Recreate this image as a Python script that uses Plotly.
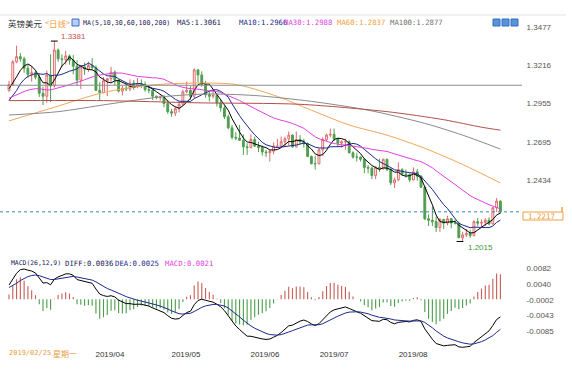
import pandas as pd
import plotly.graph_objects as go

# ---------------- data ----------------
prior_closes = [1.2645, 1.2755, 1.2610, 1.2630, 1.2725, 1.2780, 1.2725, 1.2750, 1.2765, 1.2845,
                1.2870, 1.2870, 1.2860, 1.2990, 1.2880, 1.2875, 1.2955, 1.3045, 1.3065, 1.3190,
                1.3185, 1.3075, 1.3125, 1.3115, 1.3075, 1.3045, 1.2945, 1.2930, 1.2945, 1.2940,
                1.2880, 1.2935, 1.2905, 1.2800, 1.2900, 1.2940, 1.3050, 1.3060, 1.3040, 1.3045]

opens = [1.3045, 1.3085, 1.3240, 1.3275, 1.3260, 1.3195, 1.3155, 1.3165, 1.3135, 1.3025,
         1.3005, 1.3150, 1.3075, 1.3320, 1.3260, 1.3255, 1.3280, 1.3250, 1.3210, 1.3115,
         1.3205, 1.3190, 1.3215, 1.3200, 1.3045, 1.3030, 1.3110, 1.3125, 1.3170, 1.3115,
         1.3040, 1.3060, 1.3055, 1.3095, 1.3070, 1.3090, 1.3085, 1.3050, 1.3045, 1.3005,
         1.2995, 1.3000, 1.2955, 1.2900, 1.2890, 1.2920, 1.2950, 1.3035, 1.3045, 1.3005,
         1.3185, 1.3150, 1.3085, 1.3015, 1.3005, 1.3010, 1.2960, 1.2925, 1.2865, 1.2790,
         1.2725, 1.2720, 1.2705, 1.2660, 1.2655, 1.2710, 1.2665, 1.2655, 1.2625, 1.2620,
         1.2630, 1.2665, 1.2665, 1.2695, 1.2715, 1.2740, 1.2660, 1.2710, 1.2695, 1.2680,
         1.2595, 1.2545, 1.2545, 1.2640, 1.2710, 1.2740, 1.2745, 1.2715, 1.2685, 1.2695,
         1.2695, 1.2620, 1.2590, 1.2590, 1.2575, 1.2520, 1.2515, 1.2465, 1.2520, 1.2510,
         1.2575, 1.2505, 1.2415, 1.2435, 1.2505, 1.2475, 1.2470, 1.2435, 1.2490, 1.2460,
         1.2385, 1.2170, 1.2160, 1.2150, 1.2110, 1.2165, 1.2140, 1.2170, 1.2140, 1.2140,
         1.2040, 1.2060, 1.2070, 1.2055, 1.2150, 1.2140, 1.2145, 1.2160, 1.2135, 1.2245,
         1.2290]
highs = [1.3110, 1.3250, 1.3350, 1.3300, 1.3275, 1.3220, 1.3210, 1.3180, 1.3160, 1.3070,
         1.3180, 1.3290, 1.3381, 1.3330, 1.3290, 1.3315, 1.3290, 1.3285, 1.3250, 1.3210,
         1.3235, 1.3240, 1.3265, 1.3215, 1.3100, 1.3135, 1.3130, 1.3205, 1.3180, 1.3120,
         1.3075, 1.3095, 1.3120, 1.3115, 1.3130, 1.3120, 1.3105, 1.3075, 1.3060, 1.3010,
         1.3010, 1.3015, 1.2980, 1.2920, 1.2935, 1.2970, 1.3050, 1.3105, 1.3075, 1.3195,
         1.3190, 1.3175, 1.3110, 1.3040, 1.3045, 1.3025, 1.2985, 1.2940, 1.2880, 1.2810,
         1.2760, 1.2810, 1.2745, 1.2685, 1.2745, 1.2730, 1.2695, 1.2670, 1.2640, 1.2640,
         1.2690, 1.2715, 1.2730, 1.2730, 1.2765, 1.2745, 1.2765, 1.2740, 1.2715, 1.2690,
         1.2600, 1.2600, 1.2650, 1.2725, 1.2750, 1.2785, 1.2785, 1.2720, 1.2705, 1.2715,
         1.2705, 1.2630, 1.2620, 1.2595, 1.2580, 1.2535, 1.2525, 1.2530, 1.2580, 1.2580,
         1.2580, 1.2520, 1.2450, 1.2555, 1.2515, 1.2505, 1.2480, 1.2520, 1.2510, 1.2465,
         1.2390, 1.2200, 1.2250, 1.2185, 1.2175, 1.2170, 1.2190, 1.2175, 1.2165, 1.2150,
         1.2080, 1.2100, 1.2095, 1.2160, 1.2175, 1.2165, 1.2175, 1.2180, 1.2250, 1.2311,
         1.2295]
lows = [1.3035, 1.3075, 1.3230, 1.3240, 1.3165, 1.3130, 1.3105, 1.3120, 1.3000, 1.2945,
        1.2960, 1.2965, 1.3065, 1.3240, 1.3205, 1.3220, 1.3220, 1.3155, 1.3075, 1.3055,
        1.3150, 1.3170, 1.3185, 1.3040, 1.2980, 1.3025, 1.3005, 1.3100, 1.3080, 1.3030,
        1.3010, 1.3040, 1.3040, 1.3050, 1.3060, 1.3060, 1.3035, 1.3025, 1.2980, 1.2985,
        1.2975, 1.2930, 1.2885, 1.2865, 1.2870, 1.2895, 1.2945, 1.3025, 1.2980, 1.2990,
        1.3100, 1.3070, 1.2995, 1.2970, 1.2990, 1.2935, 1.2900, 1.2850, 1.2780, 1.2710,
        1.2705, 1.2700, 1.2605, 1.2605, 1.2650, 1.2660, 1.2625, 1.2600, 1.2590, 1.2560,
        1.2610, 1.2650, 1.2655, 1.2660, 1.2670, 1.2655, 1.2655, 1.2675, 1.2655, 1.2590,
        1.2540, 1.2505, 1.2540, 1.2600, 1.2700, 1.2725, 1.2700, 1.2660, 1.2655, 1.2640,
        1.2615, 1.2580, 1.2560, 1.2560, 1.2480, 1.2480, 1.2440, 1.2440, 1.2490, 1.2505,
        1.2495, 1.2400, 1.2380, 1.2425, 1.2465, 1.2450, 1.2420, 1.2430, 1.2430, 1.2380,
        1.2160, 1.2120, 1.2120, 1.2080, 1.2080, 1.2100, 1.2125, 1.2105, 1.2130, 1.2040,
        1.2015, 1.2045, 1.2040, 1.2050, 1.2120, 1.2110, 1.2120, 1.2125, 1.2130, 1.2215,
        1.2205]
closes = [1.3085, 1.3240, 1.3275, 1.3260, 1.3195, 1.3155, 1.3165, 1.3135, 1.3025, 1.3005,
          1.3150, 1.3075, 1.3320, 1.3260, 1.3255, 1.3280, 1.3250, 1.3210, 1.3115, 1.3205,
          1.3190, 1.3215, 1.3200, 1.3045, 1.3030, 1.3110, 1.3125, 1.3170, 1.3115, 1.3040,
          1.3060, 1.3055, 1.3095, 1.3070, 1.3090, 1.3085, 1.3050, 1.3045, 1.3005, 1.2995,
          1.3000, 1.2955, 1.2900, 1.2890, 1.2920, 1.2950, 1.3035, 1.3045, 1.3005, 1.3185,
          1.3150, 1.3085, 1.3015, 1.3005, 1.3010, 1.2960, 1.2925, 1.2865, 1.2790, 1.2725,
          1.2720, 1.2705, 1.2660, 1.2655, 1.2710, 1.2665, 1.2655, 1.2625, 1.2620, 1.2630,
          1.2665, 1.2665, 1.2695, 1.2715, 1.2740, 1.2660, 1.2710, 1.2695, 1.2680, 1.2595,
          1.2545, 1.2545, 1.2640, 1.2710, 1.2740, 1.2745, 1.2715, 1.2685, 1.2695, 1.2695,
          1.2620, 1.2590, 1.2590, 1.2575, 1.2520, 1.2515, 1.2465, 1.2520, 1.2510, 1.2575,
          1.2505, 1.2415, 1.2435, 1.2505, 1.2475, 1.2470, 1.2435, 1.2490, 1.2460, 1.2385,
          1.2170, 1.2160, 1.2150, 1.2110, 1.2165, 1.2140, 1.2170, 1.2140, 1.2140, 1.2040,
          1.2060, 1.2070, 1.2055, 1.2150, 1.2140, 1.2145, 1.2160, 1.2135, 1.2245, 1.2290,
          1.2217]

# long moving averages at a few candles (index, value)
ma60_idx = [0, 12, 25, 37, 50, 60, 70, 80, 90, 100, 110, 120, 130]
ma60_val = [1.2837, 1.2930, 1.3030, 1.3080, 1.3095, 1.3085, 1.3013, 1.2910, 1.2809, 1.2740, 1.2650, 1.2540, 1.2414]
ma100_idx = [0, 13, 26, 40, 52, 65, 80, 95, 110, 120, 130]
ma100_val = [1.2877, 1.2900, 1.2950, 1.3000, 1.3020, 1.3010, 1.2970, 1.2910, 1.2820, 1.2740, 1.2645]
ma200_idx = [0, 25, 50, 77, 100, 115, 125, 130]
ma200_val = [1.2975, 1.2975, 1.2960, 1.2950, 1.2900, 1.2845, 1.2794, 1.2774]

price_ticks = [1.3477, 1.3216, 1.2955, 1.2695, 1.2434]
macd_ticks = [0.0082, 0.0040, -0.0002, -0.0043, -0.0085]
month_labels = ["2019/04", "2019/05", "2019/06", "2019/07", "2019/08"]
month_pos = [26.7, 46.8, 67.7, 86.0, 106.9]
h_line_price = 1.3080
last_price = 1.2217
high_price = 1.3381
high_idx = 12
low_price = 1.2015
low_idx = 120

# ---------------- derived indicators ----------------
idx = list(range(len(closes)))
n_prior = len(prior_closes)
all_close = pd.Series(prior_closes + closes)
ma5 = all_close.rolling(5).mean().iloc[n_prior:].tolist()
ma10 = all_close.rolling(10).mean().iloc[n_prior:].tolist()
ma30 = all_close.rolling(30).mean().iloc[n_prior:].tolist()
ema12 = all_close.ewm(span=12, adjust=False).mean()
ema26 = all_close.ewm(span=26, adjust=False).mean()
diff_all = ema12 - ema26
dea_all = diff_all.ewm(span=9, adjust=False).mean()
diff = diff_all.iloc[n_prior:].tolist()
dea = dea_all.iloc[n_prior:].tolist()
hist = [2 * (a - b) for a, b in zip(diff, dea)]

# ---------------- geometry ----------------
W, H = 572, 383
PW = 521  # plot area width in px
X_RANGE = [-2.38, 135.45]


def fx(px):
    return px / PW


def fy(py):
    return 1 - py / H


RED = "#e06a6a"
GREEN = "#4f9e4f"
MONO = "DejaVu Sans Mono"
CJK = "Noto Sans CJK SC"
SANS = "Liberation Sans"

fig = go.Figure()

fig.add_trace(go.Candlestick(
    x=idx, open=opens, high=highs, low=lows, close=closes,
    increasing=dict(line=dict(color=RED, width=1), fillcolor="white"),
    decreasing=dict(line=dict(color=GREEN, width=1), fillcolor=GREEN),
    whiskerwidth=0, xaxis="x", yaxis="y", showlegend=False, hoverinfo="skip"))

for vals, col in [(ma5, "#000000"), (ma10, "#1c2a8c"), (ma30, "#e040e0")]:
    fig.add_trace(go.Scatter(x=idx, y=vals, mode="lines", line=dict(color=col, width=1),
                             xaxis="x", yaxis="y", showlegend=False, hoverinfo="skip"))
for xs, vals, col in [(ma60_idx, ma60_val, "#f2a65a"), (ma100_idx, ma100_val, "#8a8a8a"),
                      (ma200_idx, ma200_val, "#b0504a")]:
    fig.add_trace(go.Scatter(x=xs, y=vals, mode="lines", line=dict(color=col, width=1, shape="spline", smoothing=0.8),
                             xaxis="x", yaxis="y", showlegend=False, hoverinfo="skip"))

# MACD panel
fig.add_trace(go.Bar(x=idx, y=hist, width=0.3,
                     marker=dict(color=["#c8605a" if v >= 0 else GREEN for v in hist], line=dict(width=0)),
                     xaxis="x2", yaxis="y2", showlegend=False, hoverinfo="skip"))
fig.add_trace(go.Scatter(x=idx, y=diff, mode="lines", line=dict(color="#000000", width=1),
                         xaxis="x2", yaxis="y2", showlegend=False, hoverinfo="skip"))
fig.add_trace(go.Scatter(x=idx, y=dea, mode="lines", line=dict(color="#1c2a8c", width=1),
                         xaxis="x2", yaxis="y2", showlegend=False, hoverinfo="skip"))

p_top = price_ticks[0] + 12 / 1467
p_bot = price_ticks[0] - 225 / 1467
m_scale = 0.000263
m_top = macd_ticks[0] + 10 * m_scale
m_bot = macd_ticks[0] - 80 * m_scale

fig.update_layout(
    width=W, height=H, paper_bgcolor="white", plot_bgcolor="white",
    margin=dict(l=0, r=W - PW, t=0, b=0),
    showlegend=False, dragmode=False,
    xaxis=dict(domain=[0, 1], range=X_RANGE, anchor="y", showticklabels=False, showgrid=False,
               zeroline=False, showline=False, rangeslider=dict(visible=False), fixedrange=True),
    yaxis=dict(domain=[fy(252), fy(15)], range=[p_bot, p_top], side="right", anchor="x",
               tickvals=price_ticks, ticktext=[f"{v:.4f}" for v in price_ticks],
               showgrid=False, zeroline=False, showline=False, ticks="outside", ticklen=3,
               tickcolor="rgba(0,0,0,0)", tickfont=dict(family=SANS, size=8, color="#555555"),
               fixedrange=True),
    xaxis2=dict(domain=[0, 1], range=X_RANGE, anchor="y2", showgrid=False, zeroline=False,
                showline=False, tickvals=month_pos, ticktext=month_labels, ticks="",
                tickfont=dict(family=SANS, size=8, color="#333333"), fixedrange=True),
    yaxis2=dict(domain=[fy(348), fy(258)], range=[m_bot, m_top], side="right", anchor="x2",
                tickvals=macd_ticks, ticktext=[f"{v:.4f}" for v in macd_ticks],
                showgrid=False, zeroline=False, showline=False, ticks="outside", ticklen=3,
                tickcolor="rgba(0,0,0,0)", tickfont=dict(family=SANS, size=8, color="#555555"),
                fixedrange=True),
)

shapes = []
# top border
shapes.append(dict(type="line", xref="paper", yref="paper", x0=0, x1=fx(566), y0=fy(15), y1=fy(15),
                   line=dict(color="#e2e2e2", width=1)))
# horizontal drawn line
shapes.append(dict(type="line", xref="paper", yref="y", x0=0, x1=fx(522), y0=h_line_price, y1=h_line_price,
                   line=dict(color="#8c8c8c", width=1)))
# last price dashed line
shapes.append(dict(type="line", xref="paper", yref="y", x0=0, x1=fx(522), y0=last_price, y1=last_price,
                   line=dict(color="#3a86b8", width=1, dash="dot")))
# last price box
shapes.append(dict(type="rect", xref="paper", yref="paper", x0=fx(523), x1=fx(563), y0=fy(220), y1=fy(212),
                   line=dict(color="#f0a040", width=1), fillcolor="white"))
shapes.append(dict(type="line", xref="paper", yref="paper", x0=fx(562), x1=fx(562), y0=fy(212), y1=fy(207),
                   line=dict(color="#f0a040", width=1.5)))
# high / low markers
shapes.append(dict(type="line", xref="x", yref="y", x0=high_idx - 0.9, x1=high_idx + 0.9, y0=high_price, y1=high_price,
                   line=dict(color="#000000", width=1)))
shapes.append(dict(type="line", xref="x", yref="y", x0=low_idx - 1.6, x1=low_idx + 0.2, y0=low_price, y1=low_price,
                   line=dict(color="#000000", width=1)))
# legend icon and toolbar icons
shapes.append(dict(type="rect", xref="paper", yref="paper", x0=fx(72), x1=fx(79), y0=fy(26), y1=fy(19),
                   line=dict(color="#3b6cc8", width=1), fillcolor="#b9cdf0"))
for x0 in [493, 502, 511]:
    shapes.append(dict(type="rect", xref="paper", yref="paper", x0=fx(x0), x1=fx(x0 + 7), y0=fy(26), y1=fy(19),
                       line=dict(color="#2f6fc4", width=1), fillcolor="#5b93d8"))
fig.update_layout(shapes=shapes)

ann = []


def label(px, py, text, color, family=MONO, size=7.3):
    ann.append(dict(xref="paper", yref="paper", x=fx(px), y=fy(py), text=text, showarrow=False,
                    xanchor="left", yanchor="middle", font=dict(family=family, size=size, color=color)))


label(6, 23, "英镑美元", "#333333", CJK, 8.5)
label(43, 23, "<", "#f0a040", MONO, 7)
label(47, 23, "日线", "#f0a040", CJK, 8.5)
label(64, 23, ">", "#f0a040", MONO, 7)
label(81, 23, "MA(5,10,30,60,100,200)", "#1a1a50", MONO, 6.6)
label(175, 23, "MA5:1.3061", "#1a1a50")
label(237, 23, "MA10:1.2966", "#1c2a8c")
label(282, 23, "MA30:1.2988", "#e040e0")
label(335, 23, "MA60:1.2837", "#f0a040")
label(388, 23, "MA100:1.2877", "#707070")
label(59, 36, "1.3381", "#c8504a", SANS, 8)
label(466, 247, "1.2015", "#3a9a3a", SANS, 8)
label(526, 216, f"{last_price:.4f}", "#e8a040", MONO, 7.5)
label(9, 263, "MACD(26,12,9)", "#1a1a50", MONO, 6.4)
label(63, 263, "DIFF:0.0036", "#1a1a50")
label(113, 263, "DEA:0.0025", "#1c2a8c")
label(163, 263, "MACD:0.0021", "#e040e0")
label(7, 353, "2019/02/25", "#e8a040", MONO, 7)
label(51, 353, "星期一", "#e8a040", CJK, 8)
fig.update_layout(annotations=ann)

fig.write_html("out.html", config={"displayModeBar": False, "staticPlot": True},
               post_script="document.body.style.margin='0px';document.body.style.overflow='hidden';")
